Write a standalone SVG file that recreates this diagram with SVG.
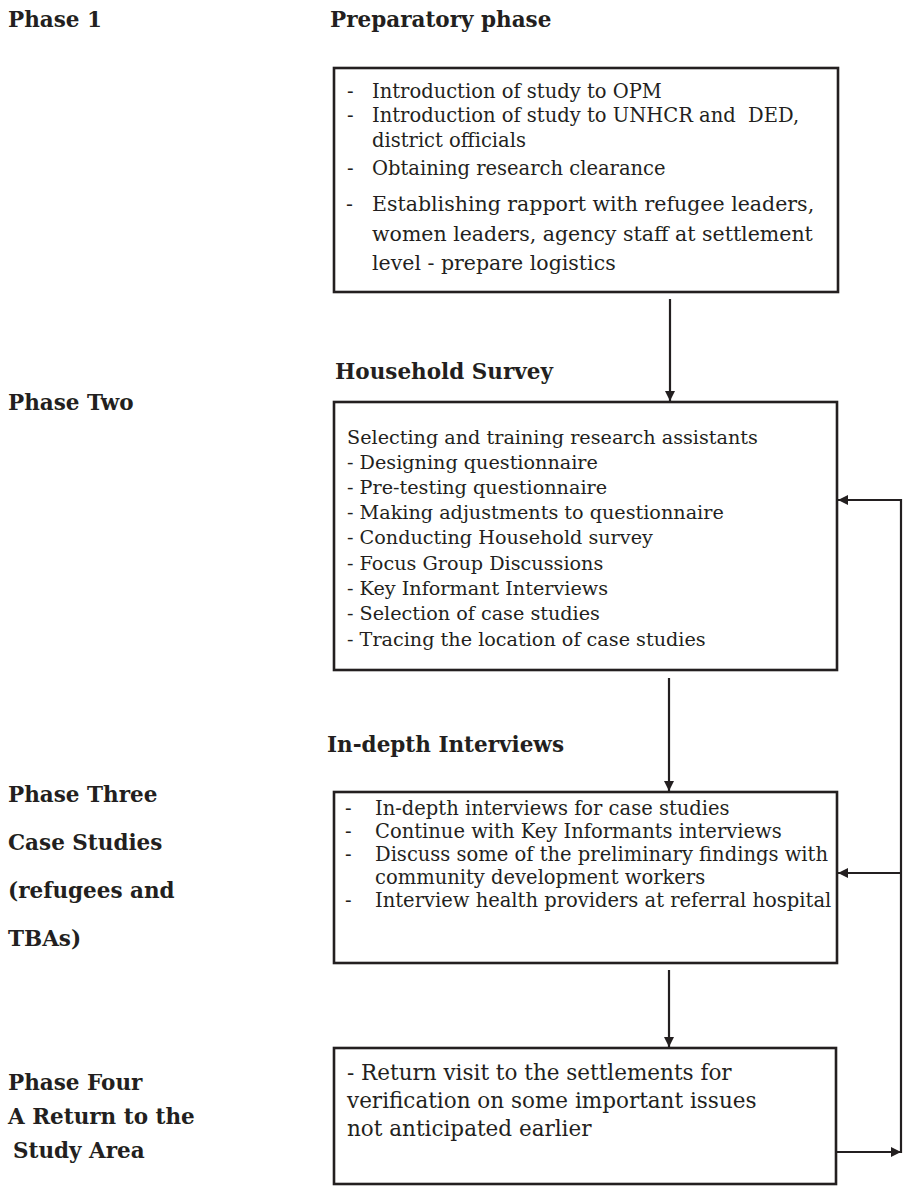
<svg xmlns="http://www.w3.org/2000/svg" width="905" height="1188" viewBox="0 0 905 1188">
  <style>
    .bg { fill: #ffffff; }
    .box { fill: #ffffff; stroke: #231f20; stroke-width: 2.6; }
    .edge { fill: none; stroke: #231f20; stroke-width: 2.2; }
    .head { font-family: "DejaVu Serif", "Liberation Serif", serif; font-weight: bold; font-size: 21.5px; fill: #231f20; }
    .body { font-family: "DejaVu Serif", "Liberation Serif", serif; font-size: 19.2px; fill: #231f20; white-space: pre; }
    .s1 { font-size: 19.5px; }
    .big { font-size: 20.5px; }
    .s3 { font-size: 19.5px; }
    .s4 { font-size: 21.5px; }
  </style>
  <defs>
    <marker id="arrow" viewBox="0 0 10 10" refX="10" refY="5" markerWidth="10" markerHeight="10" markerUnits="userSpaceOnUse" orient="auto">
      <path d="M0,0 L10,5 L0,10 Z" fill="#231f20"/>
    </marker>
  </defs>

  <rect class="bg" x="0" y="0" width="905" height="1188"/>

  <!-- phase labels, left column -->
  <g id="phase-labels">
    <text class="head" x="8" y="27">Phase 1</text>
    <text class="head" x="8" y="410">Phase Two</text>
    <text class="head" x="8" y="802">Phase Three</text>
    <text class="head" x="8" y="850">Case Studies</text>
    <text class="head" x="8" y="898">(refugees and</text>
    <text class="head" x="8" y="946">TBAs)</text>
    <text class="head" x="8" y="1090">Phase Four</text>
    <text class="head" x="8" y="1124">A Return to the</text>
    <text class="head" x="13" y="1158">Study Area</text>
  </g>

  <!-- stage headings -->
  <g id="stage-headings">
    <text class="head" x="330" y="27">Preparatory phase</text>
    <text class="head" x="335" y="379">Household Survey</text>
    <text class="head" x="327" y="752">In-depth Interviews</text>
  </g>

  <!-- connectors -->
  <g id="connectors">
    <line class="edge" x1="670" y1="299" x2="670" y2="401" marker-end="url(#arrow)"/>
    <line class="edge" x1="669" y1="678" x2="669" y2="791" marker-end="url(#arrow)"/>
    <line class="edge" x1="669" y1="970" x2="669" y2="1047" marker-end="url(#arrow)"/>
    <line class="edge" x1="837" y1="1152" x2="901" y2="1152" marker-end="url(#arrow)"/>
    <line class="edge" x1="901" y1="499" x2="901" y2="1153"/>
    <line class="edge" x1="901" y1="500" x2="838" y2="500" marker-end="url(#arrow)"/>
    <line class="edge" x1="901" y1="873" x2="838" y2="873" marker-end="url(#arrow)"/>
  </g>

  <!-- Phase 1: preparatory activities -->
  <g id="node-preparatory">
    <rect class="box" x="334" y="68" width="504" height="224"/>
    <text class="body s1" x="347" y="98">-</text>
    <text class="body s1" x="372" y="98">Introduction of study to OPM</text>
    <text class="body s1" x="347" y="122">-</text>
    <text class="body s1" x="372" y="122">Introduction of study to UNHCR and  DED,</text>
    <text class="body s1" x="372" y="147">district officials</text>
    <text class="body s1" x="347" y="175">-</text>
    <text class="body s1" x="372" y="175">Obtaining research clearance</text>
    <text class="body big" x="346" y="211">-</text>
    <text class="body big" x="372" y="211">Establishing rapport with refugee leaders,</text>
    <text class="body big" x="372" y="241">women leaders, agency staff at settlement</text>
    <text class="body big" x="372" y="270">level - prepare logistics</text>
  </g>

  <!-- Phase 2: household survey -->
  <g id="node-household-survey">
    <rect class="box" x="334" y="402" width="503" height="268"/>
    <text class="body" x="347" y="444">Selecting and training research assistants</text>
    <text class="body" x="347" y="469">- Designing questionnaire</text>
    <text class="body" x="347" y="494">- Pre-testing questionnaire</text>
    <text class="body" x="347" y="519">- Making adjustments to questionnaire</text>
    <text class="body" x="347" y="544">- Conducting Household survey</text>
    <text class="body" x="347" y="570">- Focus Group Discussions</text>
    <text class="body" x="347" y="595">- Key Informant Interviews</text>
    <text class="body" x="347" y="620">- Selection of case studies</text>
    <text class="body" x="347" y="646">- Tracing the location of case studies</text>
  </g>

  <!-- Phase 3: in-depth interviews -->
  <g id="node-in-depth">
    <rect class="box" x="334" y="792" width="503" height="171"/>
    <text class="body s3" x="345" y="815">-</text>
    <text class="body s3" x="375" y="815">In-depth interviews for case studies</text>
    <text class="body s3" x="345" y="838">-</text>
    <text class="body s3" x="375" y="838">Continue with Key Informants interviews</text>
    <text class="body s3" x="345" y="861">-</text>
    <text class="body s3" x="375" y="861">Discuss some of the preliminary findings with</text>
    <text class="body s3" x="375" y="884">community development workers</text>
    <text class="body s3" x="345" y="907">-</text>
    <text class="body s3" x="375" y="907">Interview health providers at referral hospital</text>
  </g>

  <!-- Phase 4: return visit -->
  <g id="node-return-visit">
    <rect class="box" x="334" y="1048" width="502" height="136"/>
    <text class="body s4" x="347" y="1080">- Return visit to the settlements for</text>
    <text class="body s4" x="347" y="1108">verification on some important issues</text>
    <text class="body s4" x="347" y="1136">not anticipated earlier</text>
  </g>
</svg>
